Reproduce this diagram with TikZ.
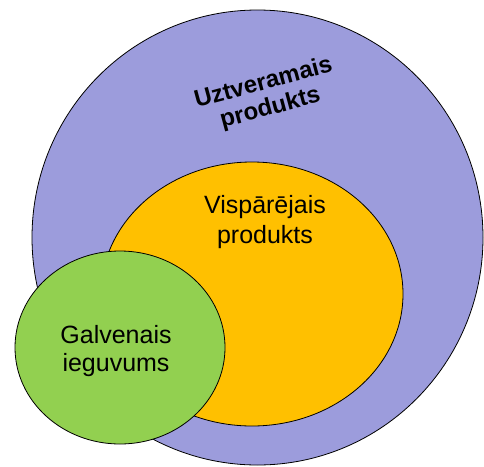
\documentclass[tikz,border=0pt]{standalone}
\usepackage{fontspec}
\setmainfont{Liberation Sans}
\definecolor{lav}{HTML}{9C9CDC}
\definecolor{gold}{HTML}{FFC000}
\definecolor{lgreen}{HTML}{92D050}
\tikzset{blob/.style={draw=black, line width=0.8pt}}
\begin{document}
\begin{tikzpicture}[x=1pt,y=-1pt]
\useasboundingbox (0,0) rectangle (484,466);
\fill[blob, fill=lav] (257.5,237.5) ellipse [x radius=225.5, y radius=227.5];
\fill[blob, fill=gold] (252,294) ellipse [x radius=151, y radius=132];
\fill[blob, fill=lgreen] (120,347.5) ellipse [x radius=105, y radius=96.5];
\node[font=\fontsize{24}{26}\selectfont\bfseries, align=center, rotate=15, inner sep=0pt] (ut) at (267,96) {Uztveramais\\produkts};
\node[font=\fontsize{25}{30}\selectfont, align=center, inner sep=0pt] (vp) at (265,222) {Vispārējais\\produkts};
\node[font=\fontsize{25}{28}\selectfont, align=center, inner sep=0pt] (gi) at (116,351) {Galvenais\\ieguvums};
\end{tikzpicture}
\end{document}
